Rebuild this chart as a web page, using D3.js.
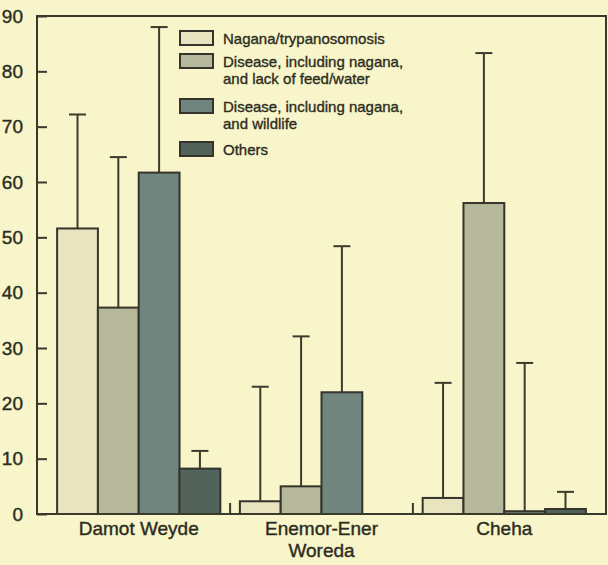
<!DOCTYPE html>
<html lang="en">
<head>
    <meta charset="UTF-8">
    <title>Woreda bar chart</title>
    <script src="https://d3js.org/d3.v7.min.js"></script>
    <style>
        body { margin: 0; background: #f7f5c9; }
        text { font-family: "Liberation Sans", Arial, sans-serif; fill: #2c2c22; }
    </style>
</head>
<body>
    <div id="my_dataviz"></div>

    <script>
        // Data
        var woredas = ["Damot Weyde", "Enemor-Ener", "Cheha"];
        var series = ["Nagana/trypanosomosis",
                      "Disease, including nagana, and lack of feed/water",
                      "Disease, including nagana, and wildlife",
                      "Others"];
        var legendLines = [["Nagana/trypanosomosis"],
                           ["Disease, including nagana,", "and lack of feed/water"],
                           ["Disease, including nagana,", "and wildlife"],
                           ["Others"]];
        // mean per woreda, one array per series
        var nagana     = [51.6, 2.3, 2.9];
        var feedWater  = [37.3, 5.0, 56.2];
        var wildlife   = [61.7, 22.0, 0.5];
        var others     = [8.2, 0, 0.9];
        // top of the error bar per woreda
        var naganaTop    = [72.2, 23.0, 23.7];
        var feedWaterTop = [64.5, 32.1, 83.3];
        var wildlifeTop  = [88.0, 48.4, 27.3];
        var othersTop    = [11.4, 0, 4.0];
        var yTicks = [0, 10, 20, 30, 40, 50, 60, 70, 80, 90];

        var means = [nagana, feedWater, wildlife, others];
        var tops = [naganaTop, feedWaterTop, wildlifeTop, othersTop];
        var colors = ["#e9e4c0", "#b6b89c", "#71857f", "#52635c"];

        var width = 608, height = 565;
        var plot = {left: 37, right: 606, top: 16, bottom: 514};

        var svg = d3.select("#my_dataviz")
            .append("svg")
            .attr("width", width)
            .attr("height", height)
            .style("display", "block");

        svg.append("rect")
            .attr("width", width).attr("height", height)
            .attr("fill", "#f7f5c9");

        var x = d3.scaleBand()
            .domain(woredas)
            .range([plot.left, plot.right])
            .paddingInner(0.107)
            .paddingOuter(0.11);

        var xs = d3.scaleBand()
            .domain(series)
            .range([0, x.bandwidth()]);

        var y = d3.scaleLinear()
            .domain([0, 90])
            .range([plot.bottom, plot.top]);

        // flatten into rows for drawing
        var rows = [];
        woredas.forEach(function(w, i) {
            series.forEach(function(s, j) {
                rows.push({woreda: w, series: s, idx: j, value: means[j][i], top: tops[j][i]});
            });
        });
        var shown = rows.filter(function(d) { return d.value > 0; });

        // error bars (behind the bars)
        var err = svg.append("g")
            .attr("stroke", "#3b3b2c")
            .attr("stroke-width", 2);
        err.selectAll("line.whisker")
            .data(shown)
            .enter()
            .append("line")
            .attr("class", "whisker")
            .attr("x1", function(d) { return x(d.woreda) + xs(d.series) + xs.bandwidth() / 2; })
            .attr("x2", function(d) { return x(d.woreda) + xs(d.series) + xs.bandwidth() / 2; })
            .attr("y1", function(d) { return y(d.value); })
            .attr("y2", function(d) { return y(d.top); });
        err.selectAll("line.cap")
            .data(shown)
            .enter()
            .append("line")
            .attr("class", "cap")
            .attr("x1", function(d) { return x(d.woreda) + xs(d.series) + xs.bandwidth() / 2 - 8.5; })
            .attr("x2", function(d) { return x(d.woreda) + xs(d.series) + xs.bandwidth() / 2 + 8.5; })
            .attr("y1", function(d) { return y(d.top); })
            .attr("y2", function(d) { return y(d.top); });

        // bars
        svg.selectAll("rect.bar")
            .data(shown)
            .enter()
            .append("rect")
            .attr("class", "bar")
            .attr("x", function(d) { return x(d.woreda) + xs(d.series); })
            .attr("y", function(d) { return y(d.value); })
            .attr("width", xs.bandwidth())
            .attr("height", function(d) { return y(0) - y(d.value); })
            .attr("fill", function(d) { return colors[d.idx]; })
            .attr("stroke", "#34342a")
            .attr("stroke-width", 2);

        // frame
        svg.append("rect")
            .attr("x", plot.left).attr("y", plot.top)
            .attr("width", plot.right - plot.left)
            .attr("height", plot.bottom - plot.top)
            .attr("fill", "none")
            .attr("stroke", "#3a3a2c")
            .attr("stroke-width", 2);

        // y axis with inward ticks
        var yAxis = svg.append("g")
            .attr("transform", "translate(" + plot.left + ",0)")
            .call(d3.axisLeft(y).tickValues(yTicks).tickSize(-10).tickPadding(14));
        yAxis.select(".domain").remove();
        yAxis.selectAll(".tick line")
            .attr("stroke", "#3a3a2c").attr("stroke-width", 2);
        yAxis.selectAll(".tick text")
            .style("font-size", "19px")
            .attr("fill", "#2c2c22")
            .attr("stroke", "#2c2c22").attr("stroke-width", 0.4);

        // x axis: labels, separator ticks between groups
        var xAxis = svg.append("g")
            .attr("transform", "translate(0," + plot.bottom + ")")
            .call(d3.axisBottom(x).tickSize(0).tickPadding(8));
        xAxis.select(".domain").remove();
        xAxis.selectAll(".tick text")
            .style("font-size", "19px")
            .attr("fill", "#2c2c22")
            .attr("stroke", "#2c2c22").attr("stroke-width", 0.4);

        svg.selectAll("line.sep")
            .data(woredas.slice(1))
            .enter()
            .append("line")
            .attr("class", "sep")
            .attr("x1", function(d) { return x(d) - x.step() * x.paddingInner() / 2; })
            .attr("x2", function(d) { return x(d) - x.step() * x.paddingInner() / 2; })
            .attr("y1", plot.bottom)
            .attr("y2", plot.bottom - 11)
            .attr("stroke", "#3a3a2c")
            .attr("stroke-width", 2);

        svg.append("text")
            .attr("x", x("Enemor-Ener") + x.bandwidth() / 2)
            .attr("y", 557)
            .attr("text-anchor", "middle")
            .style("font-size", "19px")
            .attr("stroke", "#2c2c22").attr("stroke-width", 0.4)
            .text("Woreda");

        // legend
        var legendTop = [31, 54, 99, 142];
        var lg = svg.append("g");
        series.forEach(function(s, i) {
            lg.append("rect")
                .attr("x", 180).attr("y", legendTop[i])
                .attr("width", 33).attr("height", 14)
                .attr("fill", colors[i])
                .attr("stroke", "#34342a")
                .attr("stroke-width", 2);
            var t = lg.append("text")
                .attr("x", 223)
                .attr("y", legendTop[i] + 13)
                .style("font-size", "15px")
                .attr("stroke", "#2c2c22").attr("stroke-width", 0.35);
            legendLines[i].forEach(function(line, k) {
                t.append("tspan")
                    .attr("x", 223)
                    .attr("dy", k === 0 ? 0 : 17)
                    .text(line);
            });
        });
    </script>
</body>
</html>
